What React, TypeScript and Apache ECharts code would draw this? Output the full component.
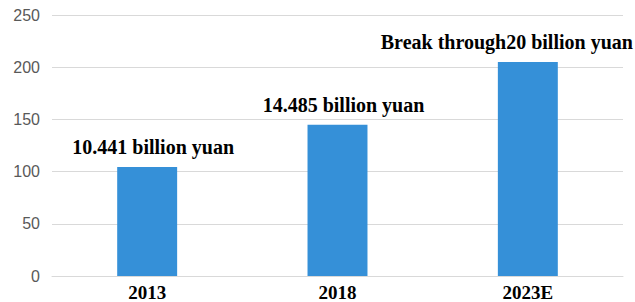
import React, { useEffect, useRef } from "react";
import * as echarts from "echarts";

const categories = ["2013", "2018", "2023E"];
const values = [104.41, 144.85, 205];
const barLabels = ["10.441 billion yuan", "14.485 billion yuan", "Break through20 billion yuan"];
const labelOffsets = [[6, 0], [6, 0], [-21, 0]];

export default function App() {
  const ref = useRef<HTMLDivElement>(null);
  useEffect(() => {
    if (!ref.current) return;
    const chart = echarts.init(ref.current, undefined, { renderer: "svg" });
    const serif = "'Times New Roman', 'Liberation Serif', serif";
    chart.setOption({
      animation: false,
      backgroundColor: "#ffffff",
      grid: { left: 52, right: 12, top: 15, bottom: 26, containLabel: false },
      xAxis: {
        type: "category",
        data: categories,
        axisLine: { show: true, lineStyle: { color: "#d9d9d9", width: 1 } },
        axisTick: { show: false },
        axisLabel: {
          color: "#000000",
          fontFamily: serif,
          fontWeight: "bold",
          fontSize: 19,
          margin: 7,
        },
      },
      yAxis: {
        type: "value",
        min: 0,
        max: 250,
        interval: 50,
        axisLine: { show: false },
        axisTick: { show: false },
        splitLine: { lineStyle: { color: "#d9d9d9", width: 1 } },
        axisLabel: {
          color: "#595959",
          fontFamily: "'Liberation Sans', Arial, sans-serif",
          fontSize: 16,
          margin: 12,
        },
      },
      series: [
        {
          type: "bar",
          barWidth: "31.5%",
          itemStyle: { color: "#3590d8" },
          data: values.map((v, i) => ({
            value: v,
            label: {
              show: true,
              position: "top",
              distance: 10,
              offset: labelOffsets[i],
              formatter: barLabels[i],
              color: "#000000",
              fontFamily: serif,
              fontWeight: "bold",
              fontSize: 20,
            },
          })),
        },
      ],
    });
    return () => chart.dispose();
  }, []);
  return (
    <div
      ref={ref}
      style={{ position: "absolute", left: 0, top: 0, width: 635, height: 302 }}
    />
  );
}
